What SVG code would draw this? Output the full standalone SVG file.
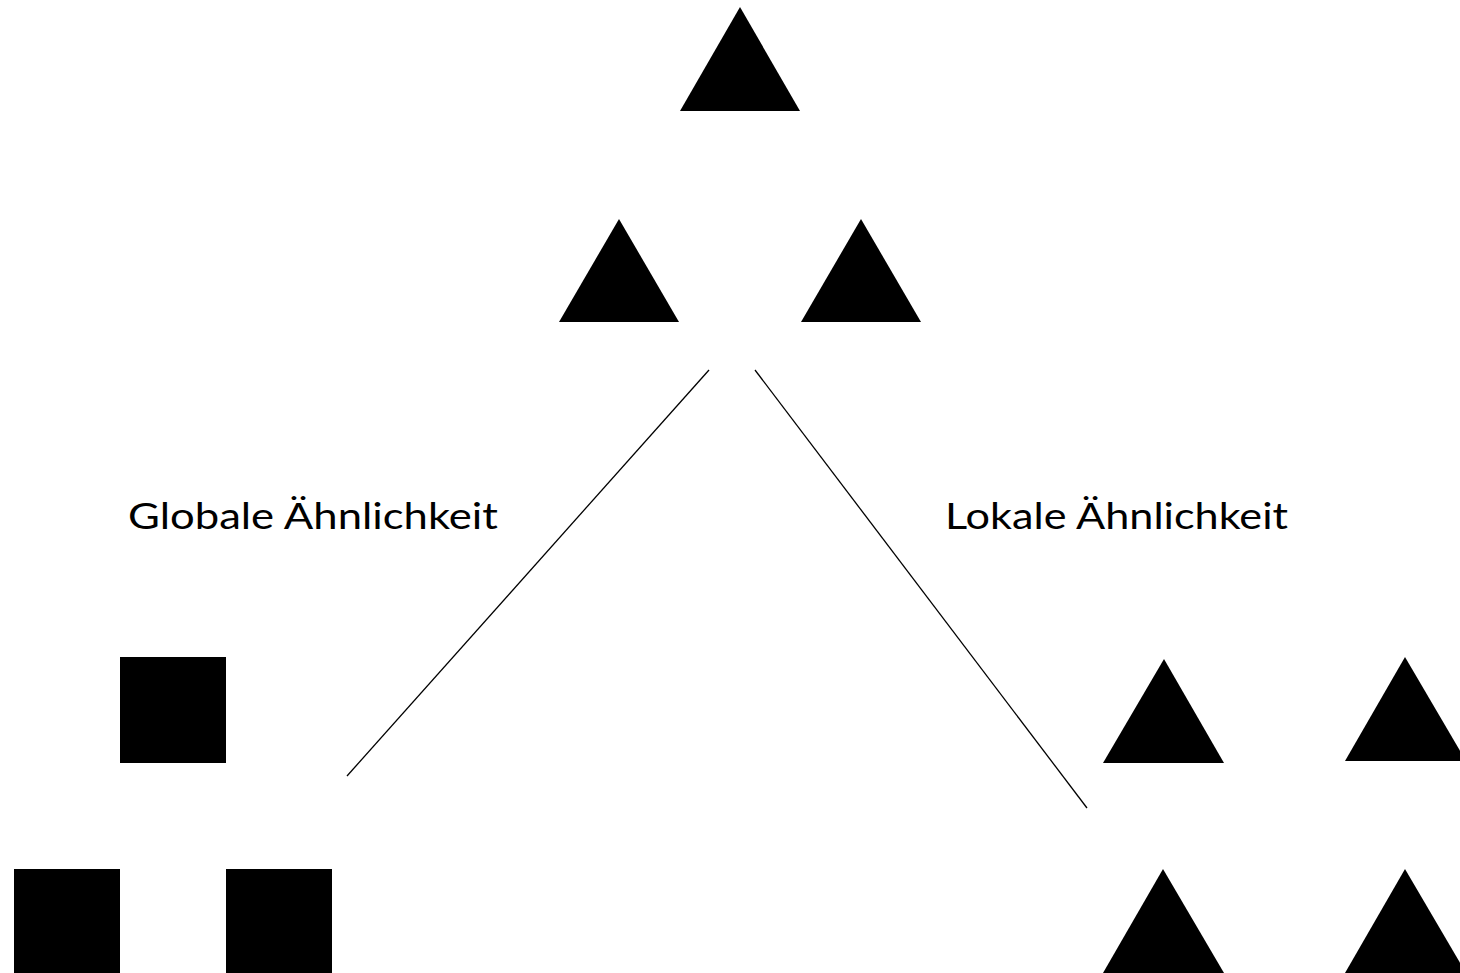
<svg xmlns="http://www.w3.org/2000/svg" width="1460" height="973" viewBox="0 0 1460 973">
<style>
.shape{fill:#000;stroke:none}
.conn{stroke:#000;stroke-width:1.3;fill:none}
.lbl{font-family:Lato,"Open Sans","Liberation Sans",sans-serif;font-size:37px;fill:#000}
</style>
<rect width="1460" height="973" fill="#fff"/>
<g id="top-triangle"><polygon class="shape" points="740,7 680,111 800,111"/></g>
<g id="mid-left-triangle"><polygon class="shape" points="619,219 559,322 679,322"/></g>
<g id="mid-right-triangle"><polygon class="shape" points="861,219 801,322 921,322"/></g>
<g id="square-top"><rect class="shape" x="120" y="657" width="106" height="106"/></g>
<g id="square-bottom-left"><rect class="shape" x="14" y="869" width="106" height="106"/></g>
<g id="square-bottom-right"><rect class="shape" x="226" y="869" width="106" height="106"/></g>
<g id="tri-right-1"><polygon class="shape" points="1164,659 1103,763 1224,763"/></g>
<g id="tri-right-2"><polygon class="shape" points="1405,657 1345,761 1466,761"/></g>
<g id="tri-right-3"><polygon class="shape" points="1163,869 1103,973 1224,973"/></g>
<g id="tri-right-4"><polygon class="shape" points="1405,869 1345,973 1466,973"/></g>
<g id="connectors">
<line class="conn" x1="709" y1="370" x2="347" y2="776"/>
<line class="conn" x1="755" y1="370" x2="1087" y2="808"/>
</g>
<g id="labels">
<text class="lbl" x="128" y="529" textLength="370" lengthAdjust="spacingAndGlyphs">Globale Ähnlichkeit</text>
<text class="lbl" x="945" y="529" textLength="343" lengthAdjust="spacingAndGlyphs">Lokale Ähnlichkeit</text>
</g>
</svg>
